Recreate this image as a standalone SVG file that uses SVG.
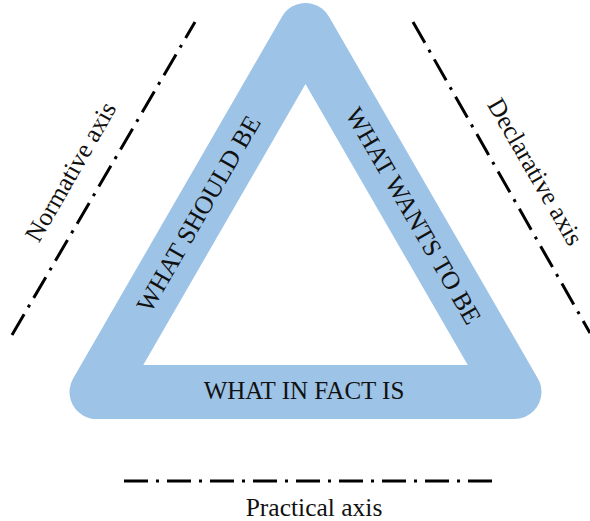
<svg xmlns="http://www.w3.org/2000/svg" width="590" height="521" viewBox="0 0 590 521">
<style>
.band{fill:none;stroke:#9DC3E6;stroke-width:54;stroke-linejoin:round}
.axis{fill:none;stroke:#000;stroke-width:3;stroke-dasharray:24 8 3 8}
.lbl{font-family:"Liberation Serif","Times New Roman",serif;font-size:25.5px;fill:#111;text-anchor:middle}
</style>
<rect width="590" height="521" fill="#fff"/>
<g id="triangle">
<polygon class="band" points="305.5,30 96.5,392 514.5,392"/>
</g>
<g id="what-should-be"><text class="lbl" transform="translate(199,214) rotate(-60)" y="8">WHAT SHOULD BE</text></g>
<g id="what-wants-to-be"><text class="lbl" transform="translate(413,216) rotate(60)" y="8">WHAT WANTS TO BE</text></g>
<g id="what-in-fact-is"><text class="lbl" x="304" y="399" style="font-size:25px">WHAT IN FACT IS</text></g>
<g id="connectors">
<line class="axis" x1="12" y1="335" x2="195" y2="22"/>
<line class="axis" x1="413" y1="22" x2="590" y2="333"/>
<line class="axis" x1="124" y1="481" x2="492" y2="481"/>
</g>
<g id="normative-axis"><text class="lbl" transform="translate(71,172) rotate(-60)" y="8">Normative axis</text></g>
<g id="declarative-axis"><text class="lbl" transform="translate(535,172) rotate(60)" y="8">Declarative axis</text></g>
<g id="practical-axis"><text class="lbl" x="314" y="516">Practical axis</text></g>
</svg>
